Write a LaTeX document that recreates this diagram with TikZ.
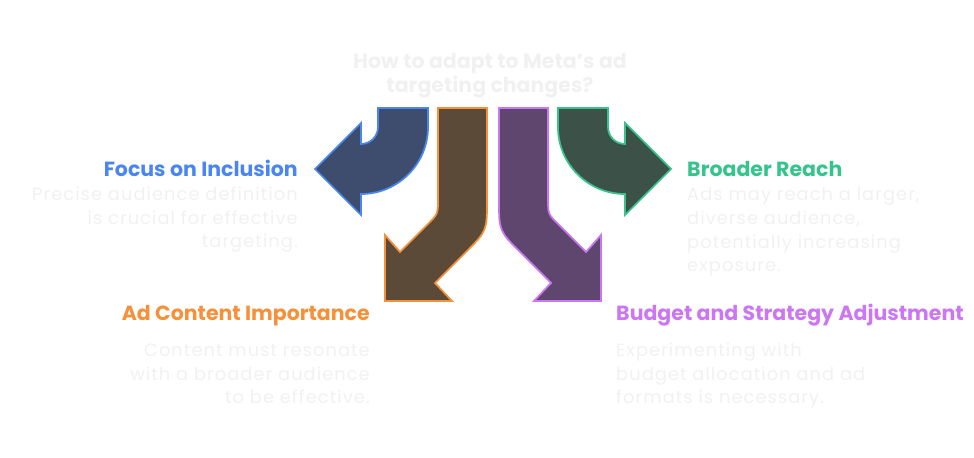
\documentclass[tikz,border=0pt]{standalone}
\usepackage{fontspec}
\setmainfont{Poppins}
\newfontfamily\bodyfont[LetterSpace=6]{Poppins}
\usetikzlibrary{positioning}
\definecolor{inclusionedge}{HTML}{4A86F0}
\definecolor{inclusionfill}{HTML}{3E4C6D}
\definecolor{contentedge}{HTML}{F5913A}
\definecolor{contentfill}{HTML}{5C4A38}
\definecolor{budgetedge}{HTML}{CB76F2}
\definecolor{budgetfill}{HTML}{5F466E}
\definecolor{reachedge}{HTML}{36C48D}
\definecolor{reachfill}{HTML}{3C5148}
\definecolor{paletext}{HTML}{F1F1F1}
\tikzset{
    bent arrow/.style={line width=1.5pt, line join=miter},
    inclusion arrow/.style={bent arrow, draw=inclusionedge, fill=inclusionfill},
    content arrow/.style={bent arrow, draw=contentedge, fill=contentfill},
    reach arrow/.style={bent arrow, draw=reachedge, fill=reachfill},
    budget arrow/.style={bent arrow, draw=budgetedge, fill=budgetfill},
    heading/.style={font=\fontsize{17.5}{21.3}\selectfont\bfseries, inner sep=0pt},
    body/.style={font=\bodyfont\fontsize{15.2}{20.2}\selectfont, text=paletext, inner sep=0pt},
    question/.style={heading, text=paletext, align=center},
}

\begin{document}
\begin{tikzpicture}[x=0.03cm, y=-0.03cm]
    \path[use as bounding box] (0,0) rectangle (974,458);

    \node[question, anchor=base] (question) at (490,93)
        {How to adapt to Meta's ad\\targeting changes?};

    \foreach \s/\inner/\outer in {1/inclusion/content, -1/reach/budget} {
        \begin{scope}[shift={(493,0)}, xscale=\s]
            \draw[\inner\space arrow] (-65,108) -- (-65,127)
                .. controls (-65,164) and (-95,194) .. (-132,194)
                -- (-132,215) -- (-178,169) -- (-132,123) -- (-132,144)
                .. controls (-122.6,144) and (-115,136.4) .. (-115,127)
                -- (-115,108) -- cycle;
            \draw[\outer\space arrow] (-55,108) -- (-6,108) -- (-6,200)
                .. controls (-6,231) .. (-28,253)
                -- (-58,283) -- (-41,301) -- (-108,301) -- (-108,235)
                -- (-93,252) -- (-66,225)
                .. controls (-55,214) .. (-55,199) -- cycle;
        \end{scope}
    }

    \node[heading, text=inclusionedge, anchor=base east] (inclusion) at (298,177)
        {Focus on Inclusion};
    \node[body, align=right, anchor=base east] (inclusiontext) at (298,248)
        {Precise audience definition\\is crucial for effective\\targeting.};

    \node[heading, text=reachedge, anchor=base west] (reach) at (687,177)
        {Broader Reach};
    \node[body, align=left, anchor=base west] (reachtext) at (687,272)
        {Ads may reach a larger,\\diverse audience,\\potentially increasing\\exposure.};

    \node[heading, text=contentedge, anchor=base east] (content) at (370,321)
        {Ad Content Importance};
    \node[body, align=right, anchor=base east] (contenttext) at (370,404)
        {Content must resonate\\with a broader audience\\to be effective.};

    \node[heading, text=budgetedge, anchor=base west] (budget) at (616,321)
        {Budget and Strategy Adjustment};
    \node[body, align=left, anchor=base west] (budgettext) at (616,404)
        {Experimenting with\\budget allocation and ad\\formats is necessary.};
\end{tikzpicture}
\end{document}
